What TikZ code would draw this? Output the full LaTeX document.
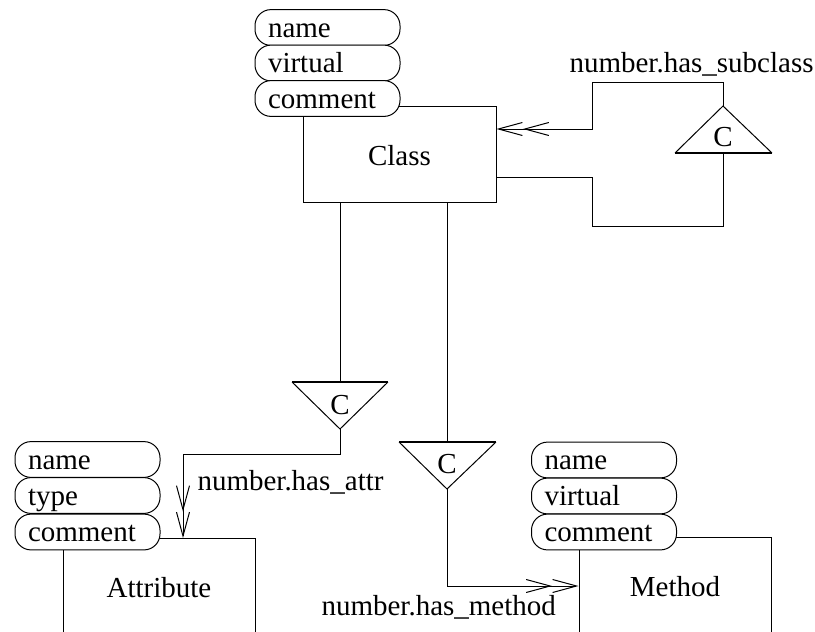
\documentclass[tikz,border=0pt]{standalone}
\usepackage{fontspec}
\setmainfont{Liberation Serif}
\usetikzlibrary{arrows.meta}
\begin{document}
\begin{tikzpicture}[x=0.5pt,y=-0.5pt, line width=0.5pt,
  every node/.style={font=\fontsize{14.5}{17}\selectfont},
  pill/.style={draw, fill=white, rounded corners=8pt, minimum height=17.9pt,
    inner ysep=0pt, inner xsep=6.5pt, text width=59.5pt, align=left,
    text height=11.5pt, text depth=2pt},
  ent/.style={draw, minimum width=96pt, minimum height=48pt, inner sep=0pt},
  lbl/.style={inner sep=0pt, anchor=base west},
  basel/.style={line width=1pt},
  dbl/.style={-{Straight Barb[length=12pt,width=6.5pt,sep=0pt]Straight Barb[length=12pt,width=6.5pt]}}
  ]
\useasboundingbox (0,0) rectangle (815,632);
\clip (0,0) rectangle (815,632);

% entity boxes
\node[ent, minimum width=96.5pt, text height=11.5pt, text depth=0pt] (cls) at (399.5,154) {Class};
\node[ent, minimum height=50pt] (att) at (159,588) {Attribute};
\node[ent, minimum height=50pt] (met) at (675,587) {Method};

% class attributes
\node[pill] (cn) at (327.5,27.5) {name};
\node[pill] (cv) at (327.5,63) {virtual};
\node[pill] (cc) at (327.5,98.5) {comment};

% attribute attributes
\node[pill] (an) at (87.5,459.5) {name};
\node[pill] (at) at (87.5,495.5) {type};
\node[pill] (ac) at (87.5,532) {comment};

% method attributes
\node[pill] (mn) at (604,460) {name};
\node[pill] (mv) at (604,496) {virtual};
\node[pill] (mc) at (604,532) {comment};

% triangle 1 (has_attr)
\coordinate (t1l) at (292,382);
\coordinate (t1r) at (388,382);
\coordinate (t1b) at (340,382);
\coordinate (t1a) at (340,429);
\draw (t1r) -- (t1a) -- (t1l);
\draw[basel] (t1l) -- (t1r);
\node (c1) at (340,405) {C};

% triangle 2 (has_method)
\coordinate (t2l) at (399,442);
\coordinate (t2r) at (496,442);
\coordinate (t2b) at (447,442);
\coordinate (t2a) at (447,489);
\draw (t2r) -- (t2a) -- (t2l);
\draw[basel] (t2l) -- (t2r);
\node (c2) at (447,464) {C};

% triangle 3 (has_subclass)
\coordinate (t3l) at (675,153);
\coordinate (t3r) at (772,153);
\coordinate (t3b) at (723,153);
\coordinate (t3a) at (723,106);
\draw (t3l) -- (t3a) -- (t3r);
\draw[basel] (t3l) -- (t3r);
\node (c3) at (723,137) {C};

% connectors
\draw (cls.south -| t1b) -- (t1b);
\draw[dbl] (t1a) -- (340,454) -- (183,454) -- (183,538);
\draw (cls.south -| t2b) -- (t2b);
\draw[dbl] (t2a) -- (447,586) -- (met.west |- 0,586);
\draw[dbl] (t3a) -- (723,82) -- (592,82) -- (592,129) -- (cls.east |- 0,129);
\draw (t3b) -- (723,226) -- (592,226) -- (592,177) -- (cls.east |- 0,177);

% labels
\node[lbl] (l3) at (569,72) {number.has\_subclass};
\node[lbl] (l1) at (197,490) {number.has\_attr};
\node[lbl] (l2) at (321,615) {number.has\_method};
\end{tikzpicture}
\end{document}
